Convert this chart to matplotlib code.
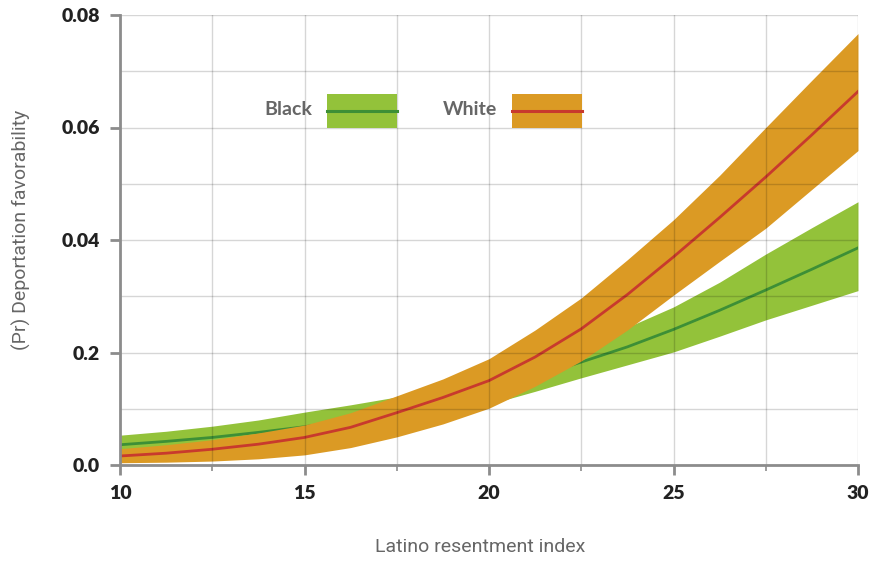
import numpy as np
import matplotlib.pyplot as plt
from matplotlib.patches import Rectangle
from matplotlib.lines import Line2D

# Latino resentment index
x = [10, 11.25, 12.5, 13.75, 15, 16.25, 17.5, 18.75, 20,
     21.25, 22.5, 23.75, 25, 26.25, 27.5, 28.75, 30]

black_mid = [0.0036, 0.0042, 0.0049, 0.0058, 0.0068, 0.0080, 0.0095, 0.0113, 0.0134,
             0.0157, 0.0183, 0.0210, 0.0241, 0.0275, 0.0311, 0.0348, 0.0386]
black_hi = [0.0053, 0.0060, 0.0069, 0.0080, 0.0094, 0.0107, 0.0121, 0.0138, 0.0158,
            0.0183, 0.0212, 0.0245, 0.0281, 0.0325, 0.0375, 0.0422, 0.0468]
black_lo = [0.0020, 0.0024, 0.0030, 0.0037, 0.0045, 0.0057, 0.0072, 0.0089, 0.0108,
            0.0131, 0.0155, 0.0178, 0.0201, 0.0229, 0.0258, 0.0284, 0.0310]

white_mid = [0.0016, 0.0021, 0.0028, 0.0037, 0.0049, 0.0067, 0.0093, 0.0120, 0.0150,
             0.0192, 0.0242, 0.0303, 0.0370, 0.0440, 0.0512, 0.0587, 0.0664]
white_hi = [0.0029, 0.0036, 0.0045, 0.0057, 0.0071, 0.0093, 0.0123, 0.0153, 0.0189,
            0.0240, 0.0297, 0.0365, 0.0436, 0.0515, 0.0600, 0.0684, 0.0767]
white_lo = [0.0004, 0.0005, 0.0007, 0.0011, 0.0018, 0.0031, 0.0050, 0.0073, 0.0101,
            0.0140, 0.0185, 0.0240, 0.0302, 0.0362, 0.0421, 0.0490, 0.0559]

y_ticks = [0.0, 0.02, 0.04, 0.06, 0.08]
y_tick_labels = ['0.0', '0.2', '0.04', '0.06', '0.08']
x_ticks = [10, 15, 20, 25, 30]

green_band = '#93c23a'
green_line = '#3d8f36'
orange_band = '#db9a24'
red_line = '#c83a2d'
spine_grey = '#8c8c8c'

fig = plt.figure(figsize=(8.74, 5.62), dpi=100)
ax = fig.add_axes([120 / 874, 97 / 562, 738 / 874, 450 / 562])

ax.fill_between(x, black_lo, black_hi, color=green_band, lw=0, zorder=1.0)
ax.plot(x, black_mid, color=green_line, lw=2, zorder=1.1)
ax.fill_between(x, white_lo, white_hi, color=orange_band, lw=0, zorder=1.2)
ax.plot(x, white_mid, color=red_line, lw=2, zorder=1.3)

ax.set_xlim(10, 30)
ax.set_ylim(0, 0.08)
ax.set_xticks(x_ticks)
ax.set_xticks([12.5, 17.5, 22.5, 27.5], minor=True)
ax.set_yticks(y_ticks)
ax.set_yticklabels(y_tick_labels)
ax.set_yticks([0.01, 0.03, 0.05, 0.07], minor=True)

ax.set_axisbelow(False)
ax.grid(True, which='both', color='black', alpha=0.16, lw=1)

for s in ['top', 'right']:
    ax.spines[s].set_visible(False)
for s in ['left', 'bottom']:
    ax.spines[s].set_color(spine_grey)
    ax.spines[s].set_linewidth(2)
    ax.spines[s].set_zorder(5)

ax.tick_params(which='major', length=7.5, width=2, color=spine_grey, pad=7,
               labelsize=14, labelcolor='#222222')
ax.tick_params(axis='x', which='minor', length=4, width=1.2, color=spine_grey)
ax.tick_params(axis='y', which='minor', length=0)
for lab in ax.get_xticklabels() + ax.get_yticklabels():
    lab.set_fontfamily('Lato')
    lab.set_fontweight('heavy')

ax.set_xlabel('Latino resentment index', fontsize=14, color='#666666',
              family='Roboto')
ax.set_ylabel('(Pr) Deportation favorability', fontsize=14, color='#666666',
              family='Roboto')
ax.xaxis.set_label_coords(0.488, -0.163)
ax.yaxis.set_label_coords(-0.12, 0.522)

# legend drawn as swatches in axes coordinates
for x0, fc, lc, name in [(0.280, green_band, green_line, 'Black'),
                         (0.531, orange_band, red_line, 'White')]:
    ax.add_patch(Rectangle((x0, 0.7496), 0.0949, 0.0749, transform=ax.transAxes,
                           facecolor=fc, edgecolor='none', zorder=6, clip_on=False))
    ax.add_line(Line2D([x0, x0 + 0.0949], [0.787, 0.787], transform=ax.transAxes,
                       color=lc, lw=2.2, zorder=7))
    ax.text(x0 - 0.02, 0.79, name, transform=ax.transAxes, ha='right', va='center',
            fontsize=14, color='#666666', family='Lato', fontweight='bold')

fig.savefig('out.png', dpi=100)
